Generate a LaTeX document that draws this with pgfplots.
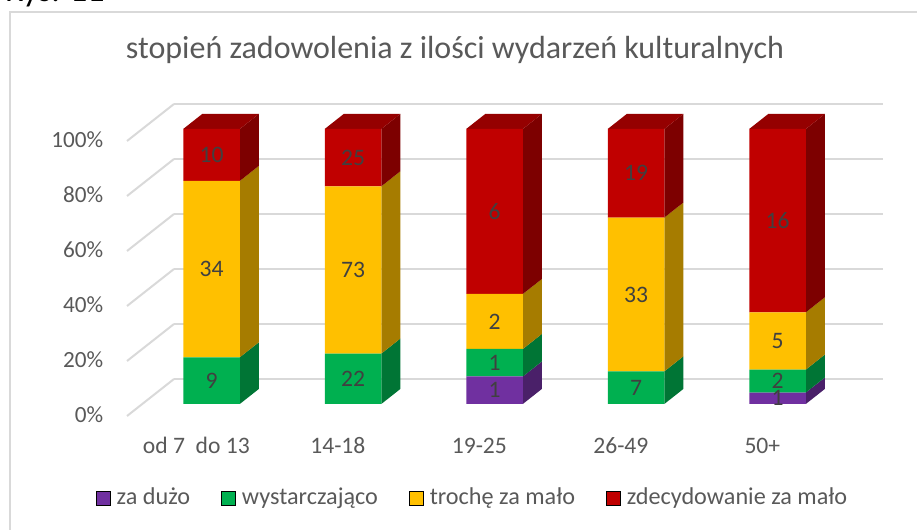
\documentclass[border=0pt]{standalone}
\usepackage{pgfplots}
\pgfplotsset{compat=1.18}
\usepackage{fontspec}
\setmainfont{Carlito}
\definecolor{zpurple}{HTML}{7030A0}
\definecolor{zpurpleS}{HTML}{4A2069}
\definecolor{zgreen}{HTML}{00B050}
\definecolor{zgreenS}{HTML}{007535}
\definecolor{zyellow}{HTML}{FFC000}
\definecolor{zyellowS}{HTML}{A67C00}
\definecolor{zred}{HTML}{C00000}
\definecolor{zredS}{HTML}{7D0000}
\definecolor{zredT}{HTML}{950000}
\definecolor{gridg}{HTML}{D9D9D9}
\definecolor{txtg}{HTML}{595959}
\definecolor{lblg}{HTML}{404040}
\pgfplotsset{base/.style={at={(0,0)}, anchor=south west, width=458.5pt, height=265pt,
  scale only axis, xmin=-1.4947, xmax=4.9859, ymin=-45.818, ymax=146.909, hide axis}}
% side face of a segment: #1 x, #2 y0, #3 y1, #4 colour
\newcommand\sideface[4]{%
  \pgfmathsetmacro\xa{#1+0.2}\pgfmathsetmacro\xb{#1+0.3343}%
  \pgfmathsetmacro\ya{#2+5.4545}\pgfmathsetmacro\yb{#3+5.4545}%
  \edef\tmp{\noexpand\addplot[fill=#4,draw=none] coordinates {(\xa,#2) (\xb,\ya) (\xb,\yb) (\xa,#3)};}\tmp}
\newcommand\topface[2]{%
  \pgfmathsetmacro\xa{#1-0.2}\pgfmathsetmacro\xb{#1+0.2}%
  \pgfmathsetmacro\xc{#1-0.0657}\pgfmathsetmacro\xd{#1+0.3343}%
  \edef\tmp{\noexpand\addplot[fill=#2,draw=none] coordinates {(\xa,100) (\xc,105.4545) (\xd,105.4545) (\xb,100)};}\tmp}
\newcommand\gridl[1]{%
  \pgfmathsetmacro\ya{#1+9.0909}\pgfmathsetmacro\yb{#1-4.3636}%
  \edef\tmp{\noexpand\addplot[draw=gridg,line width=1pt] coordinates {(-0.265,\ya) (4.746,\ya)};
    \noexpand\addplot[draw=gridg,line width=1pt] coordinates {(-0.597,\yb) (-0.265,\ya)};}\tmp}
\begin{document}
\begin{tikzpicture}
\begin{axis}[base, name=A]
  % border and walls
  \addplot[draw=gridg,line width=1.2pt] coordinates {(-1.4241,-49.45) (-1.4241,142.545) (5.0777,142.545)};
  \gridl{0}\gridl{20}\gridl{40}\gridl{60}\gridl{80}\gridl{100}
  % side faces (cumulative percentages)
  \sideface{0}{0}{16.981}{zgreenS}\sideface{0}{16.981}{81.132}{zyellowS}\sideface{0}{81.132}{100}{zredS}
  \sideface{1}{0}{18.333}{zgreenS}\sideface{1}{18.333}{79.167}{zyellowS}\sideface{1}{79.167}{100}{zredS}
  \sideface{2}{0}{10}{zpurpleS}\sideface{2}{10}{20}{zgreenS}\sideface{2}{20}{40}{zyellowS}\sideface{2}{40}{100}{zredS}
  \sideface{3}{0}{11.864}{zgreenS}\sideface{3}{11.864}{67.797}{zyellowS}\sideface{3}{67.797}{100}{zredS}
  \sideface{4}{0}{4.167}{zpurpleS}\sideface{4}{4.167}{12.5}{zgreenS}\sideface{4}{12.5}{33.333}{zyellowS}\sideface{4}{33.333}{100}{zredS}
  \topface{0}{zredT}\topface{1}{zredT}\topface{2}{zredT}\topface{3}{zredT}\topface{4}{zredT}
  % texts
  \node[anchor=base west, font=\fontsize{17}{20}\selectfont, text=black] at (axis cs:-1.509,146.4) {Rys. 11};
  \node[anchor=base, font=\fontsize{16}{19}\selectfont, text=txtg] at (axis cs:1.721,125.64) {stopień zadowolenia z ilości wydarzeń kulturalnych};
  \begin{scope}[every node/.style={anchor=base east, font=\fontsize{11.6}{14}\selectfont, text=txtg, inner sep=0pt}]
    \node at (axis cs:-0.763,-6.9) {0\%};
    \node at (axis cs:-0.763,13.1) {20\%};
    \node at (axis cs:-0.763,33.1) {40\%};
    \node at (axis cs:-0.763,53.1) {60\%};
    \node at (axis cs:-0.763,73.1) {80\%};
    \node at (axis cs:-0.763,93.1) {100\%};
  \end{scope}
  \begin{scope}[every node/.style={anchor=base, font=\fontsize{11.8}{14}\selectfont, text=txtg, inner sep=0pt}]
    \node at (axis cs:-0.107,-17.93) {od 7\ \ do 13};
    \node at (axis cs:0.893,-17.93) {14-18};
    \node at (axis cs:1.893,-17.93) {19-25};
    \node at (axis cs:2.893,-17.93) {26-49};
    \node at (axis cs:3.893,-17.93) {50+};
  \end{scope}
\end{axis}
\begin{axis}[base, ybar stacked, bar width=28.25pt]
  \addplot[fill=zpurple, draw=none] coordinates {(0,0) (1,0) (2,10) (3,0) (4,4.167)};
  \addplot[fill=zgreen, draw=none] coordinates {(0,16.981) (1,18.333) (2,10) (3,11.864) (4,8.333)};
  \addplot[fill=zyellow, draw=none] coordinates {(0,64.151) (1,60.833) (2,20) (3,55.932) (4,20.833)};
  \addplot[fill=zred, draw=none] coordinates {(0,18.868) (1,20.833) (2,60) (3,32.203) (4,66.667)};
\end{axis}
\begin{axis}[base,
  legend columns=4,
  legend image code/.code={\fill[#1] (0pt,-3.5pt) rectangle (7pt,3.5pt); \path (8pt,0pt);},
  legend style={draw=none, fill=none, at={(0.5164,0.0604)}, anchor=center,
    font=\fontsize{12.1}{14}\selectfont, text=txtg,
    /tikz/every even column/.append style={column sep=13.5pt}},
  ]
  \addplot[draw=none, mark=none, forget plot, nodes near coords, point meta=explicit symbolic,
    every node near coord/.style={anchor=center, font=\fontsize{11.8}{14}\selectfont, text=lblg}]
    coordinates {(0,8.491)[9] (0,49.057)[34] (0,90.566)[10]
                 (1,9.167)[22] (1,48.75)[73] (1,89.583)[25]
                 (2,5)[1] (2,15)[1] (2,30)[2] (2,70)[6]
                 (3,5.932)[7] (3,39.831)[33] (3,83.898)[19]
                 (4,2.083)[1] (4,8.333)[2] (4,22.917)[5] (4,66.667)[16]};
  \addlegendimage{fill=zpurple}\addlegendentry{za dużo}
  \addlegendimage{fill=zgreen}\addlegendentry{wystarczająco}
  \addlegendimage{fill=zyellow}\addlegendentry{trochę za mało}
  \addlegendimage{fill=zred}\addlegendentry{zdecydowanie za mało}
\end{axis}
\pgfresetboundingbox
\useasboundingbox (A.south west) rectangle (A.north east);
\end{tikzpicture}
\end{document}
